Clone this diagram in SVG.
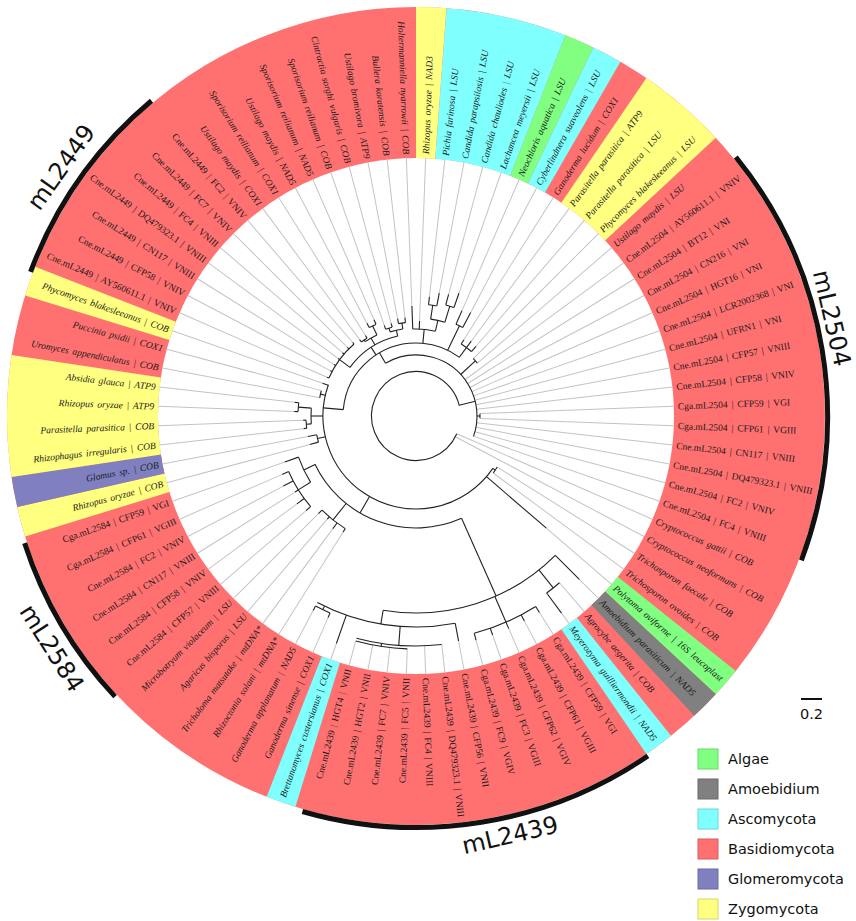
<svg xmlns="http://www.w3.org/2000/svg" width="856" height="921" viewBox="0 0 856 921">
<style>
.g{stroke:#c4c4c4;stroke-width:1;fill:none}
.k{stroke:#222;stroke-width:1.1;fill:none}
.band{fill:none;stroke-width:151}
.lab{font-family:"Liberation Serif",serif;font-size:9.5px;fill:#1a1a1a;word-spacing:1.5px}
.i{font-style:italic}
.clade{fill:none;stroke:#111;stroke-width:5}
.cl{font-family:"DejaVu Sans",sans-serif;font-size:24px;fill:#111}
.leg{font-family:"DejaVu Sans",sans-serif;font-size:14.5px;fill:#111}
</style>
<rect width="856" height="921" fill="#fff"/>
<g id="ring" transform="translate(416,416)">
<circle class="band" r="333.5" stroke="#ff7171"/>
<circle class="band" r="333.5" stroke="#ffff80" stroke-dasharray="24.945 3000" transform="rotate(-90)"/>
<circle class="band" r="333.5" stroke="#80ffff" stroke-dasharray="99.78 3000" transform="rotate(-85.714)"/>
<circle class="band" r="333.5" stroke="#80ff80" stroke-dasharray="24.945 3000" transform="rotate(-68.571)"/>
<circle class="band" r="333.5" stroke="#80ffff" stroke-dasharray="24.945 3000" transform="rotate(-64.286)"/>
<circle class="band" r="333.5" stroke="#ffff80" stroke-dasharray="74.84 3000" transform="rotate(-55.714)"/>
<circle class="band" r="333.5" stroke="#80ff80" stroke-dasharray="24.945 3000" transform="rotate(38.571)"/>
<circle class="band" r="333.5" stroke="#808080" stroke-dasharray="24.945 3000" transform="rotate(42.857)"/>
<circle class="band" r="333.5" stroke="#80ffff" stroke-dasharray="24.945 3000" transform="rotate(51.429)"/>
<circle class="band" r="333.5" stroke="#80ffff" stroke-dasharray="24.945 3000" transform="rotate(107.143)"/>
<circle class="band" r="333.5" stroke="#ffff80" stroke-dasharray="24.945 3000" transform="rotate(162.857)"/>
<circle class="band" r="333.5" stroke="#8080c0" stroke-dasharray="24.945 3000" transform="rotate(167.143)"/>
<circle class="band" r="333.5" stroke="#ffff80" stroke-dasharray="99.78 3000" transform="rotate(171.429)"/>
<circle class="band" r="333.5" stroke="#ffff80" stroke-dasharray="24.945 3000" transform="rotate(197.143)"/>
</g>
<g id="connectors" transform="translate(416,416)">
<g class="g">
<line x1="95" x2="258" transform="rotate(-87.857)"/>
<line x1="120" x2="258" transform="rotate(-83.571)"/>
<line x1="125" x2="258" transform="rotate(-79.286)"/>
<line x1="126" x2="258" transform="rotate(-75)"/>
<line x1="130" x2="258" transform="rotate(-70.714)"/>
<line x1="115" x2="258" transform="rotate(-66.429)"/>
<line x1="117" x2="258" transform="rotate(-62.143)"/>
<line x1="90" x2="258" transform="rotate(-57.857)"/>
<line x1="93" x2="258" transform="rotate(-53.571)"/>
<line x1="92" x2="258" transform="rotate(-49.286)"/>
<line x1="81" x2="258" transform="rotate(-45)"/>
<line x1="81" x2="258" transform="rotate(-40.714)"/>
<line x1="61" x2="258" transform="rotate(-36.429)"/>
<line x1="61" x2="258" transform="rotate(-32.143)"/>
<line x1="61" x2="258" transform="rotate(-27.857)"/>
<line x1="61" x2="258" transform="rotate(-23.571)"/>
<line x1="61" x2="258" transform="rotate(-19.286)"/>
<line x1="61" x2="258" transform="rotate(-15)"/>
<line x1="61" x2="258" transform="rotate(-10.714)"/>
<line x1="61" x2="258" transform="rotate(-6.429)"/>
<line x1="64" x2="258" transform="rotate(-2.143)"/>
<line x1="64" x2="258" transform="rotate(2.143)"/>
<line x1="61" x2="258" transform="rotate(6.429)"/>
<line x1="61" x2="258" transform="rotate(10.714)"/>
<line x1="61" x2="258" transform="rotate(15)"/>
<line x1="61" x2="258" transform="rotate(19.286)"/>
<line x1="44.5" x2="258" transform="rotate(23.571)"/>
<line x1="44.5" x2="258" transform="rotate(27.857)"/>
<line x1="96" x2="258" transform="rotate(32.143)"/>
<line x1="96" x2="258" transform="rotate(36.429)"/>
<line x1="172" x2="258" transform="rotate(40.714)"/>
<line x1="231" x2="258" transform="rotate(45)"/>
<line x1="220" x2="258" transform="rotate(49.286)"/>
<line x1="245" x2="258" transform="rotate(53.571)"/>
<line x1="232" x2="258" transform="rotate(57.857)"/>
<line x1="232" x2="258" transform="rotate(62.143)"/>
<line x1="232" x2="258" transform="rotate(66.429)"/>
<line x1="232" x2="258" transform="rotate(70.714)"/>
<line x1="232" x2="258" transform="rotate(75)"/>
<line x1="229" x2="258" transform="rotate(79.286)"/>
<line x1="230" x2="258" transform="rotate(83.571)"/>
<line x1="230" x2="258" transform="rotate(87.857)"/>
<line x1="233" x2="258" transform="rotate(92.143)"/>
<line x1="233" x2="258" transform="rotate(96.429)"/>
<line x1="233" x2="258" transform="rotate(100.714)"/>
<line x1="233" x2="258" transform="rotate(105)"/>
<line x1="241" x2="258" transform="rotate(109.286)"/>
<line x1="220" x2="258" transform="rotate(113.571)"/>
<line x1="220" x2="258" transform="rotate(117.857)"/>
<line x1="137" x2="258" transform="rotate(122.143)"/>
<line x1="140" x2="258" transform="rotate(126.429)"/>
<line x1="136" x2="258" transform="rotate(130.714)"/>
<line x1="138" x2="258" transform="rotate(135)"/>
<line x1="145" x2="258" transform="rotate(139.286)"/>
<line x1="148" x2="258" transform="rotate(143.571)"/>
<line x1="143" x2="258" transform="rotate(147.857)"/>
<line x1="150" x2="258" transform="rotate(152.143)"/>
<line x1="146" x2="258" transform="rotate(156.429)"/>
<line x1="139" x2="258" transform="rotate(160.714)"/>
<line x1="110" x2="258" transform="rotate(165)"/>
<line x1="110" x2="258" transform="rotate(169.286)"/>
<line x1="113" x2="258" transform="rotate(173.571)"/>
<line x1="113" x2="258" transform="rotate(177.857)"/>
<line x1="122" x2="258" transform="rotate(182.143)"/>
<line x1="122" x2="258" transform="rotate(186.429)"/>
<line x1="98" x2="258" transform="rotate(190.714)"/>
<line x1="98" x2="258" transform="rotate(195)"/>
<line x1="99" x2="258" transform="rotate(199.286)"/>
<line x1="97" x2="258" transform="rotate(203.571)"/>
<line x1="97" x2="258" transform="rotate(207.857)"/>
<line x1="97" x2="258" transform="rotate(212.143)"/>
<line x1="97" x2="258" transform="rotate(216.429)"/>
<line x1="97" x2="258" transform="rotate(220.714)"/>
<line x1="97" x2="258" transform="rotate(225)"/>
<line x1="97" x2="258" transform="rotate(229.286)"/>
<line x1="95" x2="258" transform="rotate(233.571)"/>
<line x1="95" x2="258" transform="rotate(237.857)"/>
<line x1="105" x2="258" transform="rotate(242.143)"/>
<line x1="105" x2="258" transform="rotate(246.429)"/>
<line x1="96" x2="258" transform="rotate(250.714)"/>
<line x1="96" x2="258" transform="rotate(255)"/>
<line x1="99" x2="258" transform="rotate(259.286)"/>
<line x1="99" x2="258" transform="rotate(263.571)"/>
<line x1="110" x2="258" transform="rotate(267.857)"/>
</g>
<g class="k">
<circle r="44.5" stroke-dasharray="250.43 3000" transform="rotate(23.571)"/>
<circle r="61" stroke-dasharray="148.29 3000" transform="rotate(240)"/>
<circle r="64" stroke-dasharray="4.79 3000" transform="rotate(-2.143)"/>
<circle r="81" stroke-dasharray="6.06 3000" transform="rotate(-45)"/>
<circle r="73" stroke-dasharray="154.67 3000" transform="rotate(185)"/>
<circle r="93" stroke-dasharray="267.8 3000" transform="rotate(34.3)"/>
<circle r="96" stroke-dasharray="7.18 3000" transform="rotate(32.143)"/>
<circle r="112" stroke-dasharray="172.6 3000" transform="rotate(66)"/>
<circle r="197" stroke-dasharray="187.73 3000" transform="rotate(45)"/>
<circle r="220" stroke-dasharray="16.46 3000" transform="rotate(49.286)"/>
<circle r="225" stroke-dasharray="67.32 3000" transform="rotate(57.857)"/>
<circle r="211" stroke-dasharray="142.04 3000" transform="rotate(79.286)"/>
<circle r="230" stroke-dasharray="86.02 3000" transform="rotate(83.571)"/>
<circle r="233" stroke-dasharray="52.28 3000" transform="rotate(92.143)"/>
<circle r="215" stroke-dasharray="16.08 3000" transform="rotate(113.571)"/>
<circle r="133" stroke-dasharray="29.85 3000" transform="rotate(122.143)"/>
<circle r="124.5" stroke-dasharray="27.81 3000" transform="rotate(147.9)"/>
<circle r="139" stroke-dasharray="41.59 3000" transform="rotate(139.286)"/>
<circle r="101" stroke-dasharray="7.555 3000" transform="rotate(165)"/>
<circle r="105" stroke-dasharray="15.76 3000" transform="rotate(175.7)"/>
<circle r="110" stroke-dasharray="8.23 3000" transform="rotate(173.571)"/>
<circle r="118" stroke-dasharray="8.83 3000" transform="rotate(182.143)"/>
<circle r="98" stroke-dasharray="7.33 3000" transform="rotate(190.714)"/>
<circle r="82" stroke-dasharray="58.25 3000" transform="rotate(216.4)"/>
<circle r="95" stroke-dasharray="42.64 3000" transform="rotate(203.571)"/>
<circle r="90" stroke-dasharray="13.51 3000" transform="rotate(235.7)"/>
<circle r="92" stroke-dasharray="6.88 3000" transform="rotate(233.571)"/>
<circle r="100" stroke-dasharray="7.48 3000" transform="rotate(242.143)"/>
<circle r="88" stroke-dasharray="13.05 3000" transform="rotate(252.9)"/>
<circle r="92" stroke-dasharray="6.88 3000" transform="rotate(250.714)"/>
<circle r="94" stroke-dasharray="7.03 3000" transform="rotate(259.286)"/>
<circle r="87" stroke-dasharray="22.84 3000" transform="rotate(267.857)"/>
<circle r="98" stroke-dasharray="14.54 3000" transform="rotate(-81.4)"/>
<circle r="112" stroke-dasharray="8.38 3000" transform="rotate(-83.571)"/>
<circle r="115" stroke-dasharray="8.6 3000" transform="rotate(-75)"/>
<circle r="100" stroke-dasharray="7.48 3000" transform="rotate(-66.429)"/>
<circle r="85" stroke-dasharray="12.72 3000" transform="rotate(-57.857)"/>
<line x1="44.5" x2="61" transform="rotate(-14)"/>
<line x1="61" x2="81" transform="rotate(-42.9)"/>
<line x1="61" x2="64" transform="rotate(0)"/>
<line x1="61" x2="73" transform="rotate(240)"/>
<line x1="73" x2="93" transform="rotate(185)"/>
<line x1="93" x2="96" transform="rotate(34.3)"/>
<line x1="93" x2="172" transform="rotate(40.714)"/>
<line x1="93" x2="112" transform="rotate(120)"/>
<line x1="112" x2="197" transform="rotate(66)"/>
<line x1="197" x2="231" transform="rotate(45)"/>
<line x1="197" x2="220" transform="rotate(51.4)"/>
<line x1="220" x2="245" transform="rotate(53.571)"/>
<line x1="197" x2="225" transform="rotate(66.4)"/>
<line x1="225" x2="232" transform="rotate(57.857)"/>
<line x1="225" x2="232" transform="rotate(62.143)"/>
<line x1="225" x2="232" transform="rotate(66.429)"/>
<line x1="225" x2="232" transform="rotate(70.714)"/>
<line x1="225" x2="232" transform="rotate(75)"/>
<line x1="197" x2="211" transform="rotate(99.6)"/>
<line x1="211" x2="229" transform="rotate(79.286)"/>
<line x1="211" x2="230" transform="rotate(94.3)"/>
<line x1="230" x2="233" transform="rotate(98.6)"/>
<line x1="211" x2="241" transform="rotate(109.286)"/>
<line x1="211" x2="215" transform="rotate(115.7)"/>
<line x1="215" x2="220" transform="rotate(113.571)"/>
<line x1="215" x2="220" transform="rotate(117.857)"/>
<line x1="112" x2="133" transform="rotate(128.6)"/>
<line x1="133" x2="137" transform="rotate(122.143)"/>
<line x1="133" x2="140" transform="rotate(126.429)"/>
<line x1="133" x2="136" transform="rotate(130.714)"/>
<line x1="133" x2="138" transform="rotate(135)"/>
<line x1="112" x2="124.5" transform="rotate(154.3)"/>
<line x1="124.5" x2="139" transform="rotate(147.9)"/>
<line x1="124.5" x2="139" transform="rotate(160.714)"/>
<line x1="139" x2="145" transform="rotate(139.286)"/>
<line x1="139" x2="148" transform="rotate(143.571)"/>
<line x1="139" x2="143" transform="rotate(147.857)"/>
<line x1="139" x2="150" transform="rotate(152.143)"/>
<line x1="139" x2="146" transform="rotate(156.429)"/>
<line x1="93" x2="101" transform="rotate(167.1)"/>
<line x1="101" x2="110" transform="rotate(165)"/>
<line x1="101" x2="110" transform="rotate(169.286)"/>
<line x1="93" x2="105" transform="rotate(180)"/>
<line x1="105" x2="110" transform="rotate(175.7)"/>
<line x1="110" x2="113" transform="rotate(173.571)"/>
<line x1="110" x2="113" transform="rotate(177.857)"/>
<line x1="105" x2="118" transform="rotate(184.3)"/>
<line x1="118" x2="122" transform="rotate(182.143)"/>
<line x1="118" x2="122" transform="rotate(186.429)"/>
<line x1="93" x2="98" transform="rotate(192.9)"/>
<line x1="93" x2="99" transform="rotate(199.286)"/>
<line x1="73" x2="82" transform="rotate(236.8)"/>
<line x1="82" x2="95" transform="rotate(216.4)"/>
<line x1="95" x2="97" transform="rotate(203.571)"/>
<line x1="95" x2="97" transform="rotate(207.857)"/>
<line x1="95" x2="97" transform="rotate(212.143)"/>
<line x1="95" x2="97" transform="rotate(216.429)"/>
<line x1="95" x2="97" transform="rotate(220.714)"/>
<line x1="95" x2="97" transform="rotate(225)"/>
<line x1="95" x2="97" transform="rotate(229.286)"/>
<line x1="82" x2="90" transform="rotate(240)"/>
<line x1="90" x2="92" transform="rotate(235.7)"/>
<line x1="92" x2="95" transform="rotate(233.571)"/>
<line x1="92" x2="95" transform="rotate(237.857)"/>
<line x1="90" x2="100" transform="rotate(244.3)"/>
<line x1="100" x2="105" transform="rotate(242.143)"/>
<line x1="100" x2="105" transform="rotate(246.429)"/>
<line x1="82" x2="88" transform="rotate(257.1)"/>
<line x1="88" x2="92" transform="rotate(252.9)"/>
<line x1="92" x2="96" transform="rotate(250.714)"/>
<line x1="92" x2="96" transform="rotate(255)"/>
<line x1="88" x2="94" transform="rotate(261.4)"/>
<line x1="94" x2="99" transform="rotate(259.286)"/>
<line x1="94" x2="99" transform="rotate(263.571)"/>
<line x1="73" x2="87" transform="rotate(-84.6)"/>
<line x1="87" x2="110" transform="rotate(267.857)"/>
<line x1="87" x2="95" transform="rotate(-87.857)"/>
<line x1="87" x2="98" transform="rotate(-77.1)"/>
<line x1="98" x2="112" transform="rotate(-81.4)"/>
<line x1="112" x2="120" transform="rotate(-83.571)"/>
<line x1="112" x2="125" transform="rotate(-79.286)"/>
<line x1="98" x2="115" transform="rotate(-72.9)"/>
<line x1="115" x2="126" transform="rotate(-75)"/>
<line x1="115" x2="130" transform="rotate(-70.714)"/>
<line x1="73" x2="100" transform="rotate(-64.3)"/>
<line x1="100" x2="115" transform="rotate(-66.429)"/>
<line x1="100" x2="117" transform="rotate(-62.143)"/>
<line x1="73" x2="85" transform="rotate(-53.6)"/>
<line x1="85" x2="90" transform="rotate(-57.857)"/>
<line x1="85" x2="93" transform="rotate(-53.571)"/>
<line x1="85" x2="92" transform="rotate(-49.286)"/>
</g>
</g>
<g id="leaves" transform="translate(416,416)">
<g id="leaf01" transform="rotate(-87.857)"><text class="lab i" x="262" dy="0.35em">Rhizopus oryzae | NAD3</text></g>
<g id="leaf02" transform="rotate(-83.571)"><text class="lab i" x="262" dy="0.35em">Pichia farinosa | LSU</text></g>
<g id="leaf03" transform="rotate(-79.286)"><text class="lab i" x="262" dy="0.35em">Candida parapsilosis | LSU</text></g>
<g id="leaf04" transform="rotate(-75)"><text class="lab i" x="262" dy="0.35em">Candida chauliodes | LSU</text></g>
<g id="leaf05" transform="rotate(-70.714)"><text class="lab i" x="262" dy="0.35em">Lachancea meyersii | LSU</text></g>
<g id="leaf06" transform="rotate(-66.429)"><text class="lab i" x="262" dy="0.35em">Neochloris aquatica | LSU</text></g>
<g id="leaf07" transform="rotate(-62.143)"><text class="lab i" x="262" dy="0.35em">Cyberlindnera suaveolens | LSU</text></g>
<g id="leaf08" transform="rotate(-57.857)"><text class="lab i" x="262" dy="0.35em">Ganoderma lucidum | COX1</text></g>
<g id="leaf09" transform="rotate(-53.571)"><text class="lab i" x="262" dy="0.35em">Parasitella parasitica | ATP9</text></g>
<g id="leaf10" transform="rotate(-49.286)"><text class="lab i" x="262" dy="0.35em">Parasitella parasitica | LSU</text></g>
<g id="leaf11" transform="rotate(-45)"><text class="lab i" x="262" dy="0.35em">Phycomyces blakesleeanus | LSU</text></g>
<g id="leaf12" transform="rotate(-40.714)"><text class="lab i" x="262" dy="0.35em">Ustilago maydis | LSU</text></g>
<g id="leaf13" transform="rotate(-36.429)"><text class="lab" x="262" dy="0.35em">Cne.mL2504 | AY560611.1 | VNIV</text></g>
<g id="leaf14" transform="rotate(-32.143)"><text class="lab" x="262" dy="0.35em">Cne.mL2504 | BT12 | VNI</text></g>
<g id="leaf15" transform="rotate(-27.857)"><text class="lab" x="262" dy="0.35em">Cne.mL2504 | CN216 | VNI</text></g>
<g id="leaf16" transform="rotate(-23.571)"><text class="lab" x="262" dy="0.35em">Cne.mL2504 | HGT16 | VNI</text></g>
<g id="leaf17" transform="rotate(-19.286)"><text class="lab" x="262" dy="0.35em">Cne.mL2504 | LCR2002368 | VNI</text></g>
<g id="leaf18" transform="rotate(-15)"><text class="lab" x="262" dy="0.35em">Cne.mL2504 | UFRN1 | VNI</text></g>
<g id="leaf19" transform="rotate(-10.714)"><text class="lab" x="262" dy="0.35em">Cne.mL2504 | CFP57 | VNIII</text></g>
<g id="leaf20" transform="rotate(-6.429)"><text class="lab" x="262" dy="0.35em">Cne.mL2504 | CFP58 | VNIV</text></g>
<g id="leaf21" transform="rotate(-2.143)"><text class="lab" x="262" dy="0.35em">Cga.mL2504 | CFP59 | VGI</text></g>
<g id="leaf22" transform="rotate(2.143)"><text class="lab" x="262" dy="0.35em">Cga.mL2504 | CFP61 | VGIII</text></g>
<g id="leaf23" transform="rotate(6.429)"><text class="lab" x="262" dy="0.35em">Cne.mL2504 | CN117 | VNIII</text></g>
<g id="leaf24" transform="rotate(10.714)"><text class="lab" x="262" dy="0.35em">Cne.mL2504 | DQ479323.1 | VNIII</text></g>
<g id="leaf25" transform="rotate(15)"><text class="lab" x="262" dy="0.35em">Cne.mL2504 | FC2 | VNIV</text></g>
<g id="leaf26" transform="rotate(19.286)"><text class="lab" x="262" dy="0.35em">Cne.mL2504 | FC4 | VNIII</text></g>
<g id="leaf27" transform="rotate(23.571)"><text class="lab i" x="262" dy="0.35em">Cryptococcus gattii | COB</text></g>
<g id="leaf28" transform="rotate(27.857)"><text class="lab i" x="262" dy="0.35em">Cryptococcus neoformans | COB</text></g>
<g id="leaf29" transform="rotate(32.143)"><text class="lab i" x="262" dy="0.35em">Trichosporon faecale | COB</text></g>
<g id="leaf30" transform="rotate(36.429)"><text class="lab i" x="262" dy="0.35em">Trichosporon ovoides | COB</text></g>
<g id="leaf31" transform="rotate(40.714)"><text class="lab i" x="262" dy="0.35em">Polytoma oviforme | 16S leucoplast</text></g>
<g id="leaf32" transform="rotate(45)"><text class="lab i" x="262" dy="0.35em">Amoebidium parasiticum | NAD5</text></g>
<g id="leaf33" transform="rotate(49.286)"><text class="lab i" x="262" dy="0.35em">Agrocybe aegerita | COB</text></g>
<g id="leaf34" transform="rotate(53.571)"><text class="lab i" x="262" dy="0.35em">Meyerozyma guilliermondii | NAD5</text></g>
<g id="leaf35" transform="rotate(57.857)"><text class="lab" x="262" dy="0.35em">Cga.mL2439 | CFP59 | VGI</text></g>
<g id="leaf36" transform="rotate(62.143)"><text class="lab" x="262" dy="0.35em">Cga.mL2439 | CFP61 | VGIII</text></g>
<g id="leaf37" transform="rotate(66.429)"><text class="lab" x="262" dy="0.35em">Cga.mL2439 | CFP62 | VGIV</text></g>
<g id="leaf38" transform="rotate(70.714)"><text class="lab" x="262" dy="0.35em">Cga.mL2439 | FC3 | VGIII</text></g>
<g id="leaf39" transform="rotate(75)"><text class="lab" x="262" dy="0.35em">Cga.mL2439 | FC9 | VGIV</text></g>
<g id="leaf40" transform="rotate(79.286)"><text class="lab" x="262" dy="0.35em">Cne.mL2439 | CFP56 | VNII</text></g>
<g id="leaf41" transform="rotate(83.571)"><text class="lab" x="262" dy="0.35em">Cne.mL2439 | DQ479323.1 | VNIII</text></g>
<g id="leaf42" transform="rotate(87.857)"><text class="lab" x="262" dy="0.35em">Cne.mL2439 | FC4 | VNIII</text></g>
<g id="leaf43" transform="rotate(-87.857)"><text class="lab" x="-262" dy="0.35em" text-anchor="end">Cne.mL2439 | FC5 | VNII</text></g>
<g id="leaf44" transform="rotate(-83.571)"><text class="lab" x="-262" dy="0.35em" text-anchor="end">Cne.mL2439 | FC7 | VNIV</text></g>
<g id="leaf45" transform="rotate(-79.286)"><text class="lab" x="-262" dy="0.35em" text-anchor="end">Cne.mL2439 | HGT2 | VNII</text></g>
<g id="leaf46" transform="rotate(-75)"><text class="lab" x="-262" dy="0.35em" text-anchor="end">Cne.mL2439 | HGT4 | VNII</text></g>
<g id="leaf47" transform="rotate(-70.714)"><text class="lab i" x="-262" dy="0.35em" text-anchor="end">Brettanomyces custersianus | COX1</text></g>
<g id="leaf48" transform="rotate(-66.429)"><text class="lab i" x="-262" dy="0.35em" text-anchor="end">Ganoderma sinense | COX1</text></g>
<g id="leaf49" transform="rotate(-62.143)"><text class="lab i" x="-262" dy="0.35em" text-anchor="end">Ganoderma applanatum | NAD5</text></g>
<g id="leaf50" transform="rotate(-57.857)"><text class="lab i" x="-262" dy="0.35em" text-anchor="end">Rhizoctonia solani | mtDNA*</text></g>
<g id="leaf51" transform="rotate(-53.571)"><text class="lab i" x="-262" dy="0.35em" text-anchor="end">Tricholoma matsutake | mtDNA*</text></g>
<g id="leaf52" transform="rotate(-49.286)"><text class="lab i" x="-262" dy="0.35em" text-anchor="end">Agaricus bisporus | LSU</text></g>
<g id="leaf53" transform="rotate(-45)"><text class="lab i" x="-262" dy="0.35em" text-anchor="end">Microbotryum violaceum | LSU</text></g>
<g id="leaf54" transform="rotate(-40.714)"><text class="lab" x="-262" dy="0.35em" text-anchor="end">Cne.mL2584 | CFP57 | VNIII</text></g>
<g id="leaf55" transform="rotate(-36.429)"><text class="lab" x="-262" dy="0.35em" text-anchor="end">Cne.mL2584 | CFP58 | VNIV</text></g>
<g id="leaf56" transform="rotate(-32.143)"><text class="lab" x="-262" dy="0.35em" text-anchor="end">Cne.mL2584 | CN117 | VNIII</text></g>
<g id="leaf57" transform="rotate(-27.857)"><text class="lab" x="-262" dy="0.35em" text-anchor="end">Cne.mL2584 | FC2 | VNIV</text></g>
<g id="leaf58" transform="rotate(-23.571)"><text class="lab" x="-262" dy="0.35em" text-anchor="end">Cga.mL2584 | CFP61 | VGIII</text></g>
<g id="leaf59" transform="rotate(-19.286)"><text class="lab" x="-262" dy="0.35em" text-anchor="end">Cga.mL2584 | CFP59 | VGI</text></g>
<g id="leaf60" transform="rotate(-15)"><text class="lab i" x="-262" dy="0.35em" text-anchor="end">Rhizopus oryzae | COB</text></g>
<g id="leaf61" transform="rotate(-10.714)"><text class="lab i" x="-262" dy="0.35em" text-anchor="end">Glomus sp. | COB</text></g>
<g id="leaf62" transform="rotate(-6.429)"><text class="lab i" x="-262" dy="0.35em" text-anchor="end">Rhizophagus irregularis | COB</text></g>
<g id="leaf63" transform="rotate(-2.143)"><text class="lab i" x="-262" dy="0.35em" text-anchor="end">Parasitella parasitica | COB</text></g>
<g id="leaf64" transform="rotate(2.143)"><text class="lab i" x="-262" dy="0.35em" text-anchor="end">Rhizopus oryzae | ATP9</text></g>
<g id="leaf65" transform="rotate(6.429)"><text class="lab i" x="-262" dy="0.35em" text-anchor="end">Absidia glauca | ATP9</text></g>
<g id="leaf66" transform="rotate(10.714)"><text class="lab i" x="-262" dy="0.35em" text-anchor="end">Uromyces appendiculatus | COB</text></g>
<g id="leaf67" transform="rotate(15)"><text class="lab i" x="-262" dy="0.35em" text-anchor="end">Puccinia psidii | COX1</text></g>
<g id="leaf68" transform="rotate(19.286)"><text class="lab i" x="-262" dy="0.35em" text-anchor="end">Phycomyces blakesleeanus | COB</text></g>
<g id="leaf69" transform="rotate(23.571)"><text class="lab" x="-262" dy="0.35em" text-anchor="end">Cne.mL2449 | AY560611.1 | VNIV</text></g>
<g id="leaf70" transform="rotate(27.857)"><text class="lab" x="-262" dy="0.35em" text-anchor="end">Cne.mL2449 | CFP58 | VNIV</text></g>
<g id="leaf71" transform="rotate(32.143)"><text class="lab" x="-262" dy="0.35em" text-anchor="end">Cne.mL2449 | CN117 | VNIII</text></g>
<g id="leaf72" transform="rotate(36.429)"><text class="lab" x="-262" dy="0.35em" text-anchor="end">Cne.mL2449 | DQ479323.1 | VNIII</text></g>
<g id="leaf73" transform="rotate(40.714)"><text class="lab" x="-262" dy="0.35em" text-anchor="end">Cne.mL2449 | FC4 | VNIII</text></g>
<g id="leaf74" transform="rotate(45)"><text class="lab" x="-262" dy="0.35em" text-anchor="end">Cne.mL2449 | FC7 | VNIV</text></g>
<g id="leaf75" transform="rotate(49.286)"><text class="lab" x="-262" dy="0.35em" text-anchor="end">Cne.mL2449 | FC2 | VNIV</text></g>
<g id="leaf76" transform="rotate(53.571)"><text class="lab i" x="-262" dy="0.35em" text-anchor="end">Ustilago maydis | COX1</text></g>
<g id="leaf77" transform="rotate(57.857)"><text class="lab i" x="-262" dy="0.35em" text-anchor="end">Sporisorium reilianum | COX1</text></g>
<g id="leaf78" transform="rotate(62.143)"><text class="lab i" x="-262" dy="0.35em" text-anchor="end">Ustilago maydis | NAD5</text></g>
<g id="leaf79" transform="rotate(66.429)"><text class="lab i" x="-262" dy="0.35em" text-anchor="end">Sporisorium reilianum | NAD5</text></g>
<g id="leaf80" transform="rotate(70.714)"><text class="lab i" x="-262" dy="0.35em" text-anchor="end">Sporisorium reilianum | COB</text></g>
<g id="leaf81" transform="rotate(75)"><text class="lab i" x="-262" dy="0.35em" text-anchor="end">Cintractia sorghi vulgaris | COB</text></g>
<g id="leaf82" transform="rotate(79.286)"><text class="lab i" x="-262" dy="0.35em" text-anchor="end">Ustilago bromivora | ATP9</text></g>
<g id="leaf83" transform="rotate(83.571)"><text class="lab i" x="-262" dy="0.35em" text-anchor="end">Bullera koratensis | COB</text></g>
<g id="leaf84" transform="rotate(87.857)"><text class="lab i" x="-262" dy="0.35em" text-anchor="end">Holtermanniella nyarrowii | COB</text></g>
</g>
<g id="clades" transform="translate(416,416)">
<circle class="clade" r="411.5" stroke-dasharray="211.87 3000" transform="rotate(200.5)"/>
<circle class="clade" r="411.5" stroke-dasharray="427.3 3000" transform="rotate(-39)"/>
<circle class="clade" r="411.5" stroke-dasharray="361.3 3000" transform="rotate(55.7)"/>
<circle class="clade" r="411.5" stroke-dasharray="179.55 3000" transform="rotate(137)"/>
</g>
<g id="clade-labels">
<text class="cl" x="61" y="167" dy="0.35em" text-anchor="middle" transform="rotate(-54.5 61 167)">mL2449</text>
<text class="cl" x="832" y="318" dy="0.35em" text-anchor="middle" transform="rotate(77 832 318)">mL2504</text>
<text class="cl" x="510" y="835" dy="0.35em" text-anchor="middle" transform="rotate(-13 510 835)">mL2439</text>
<text class="cl" x="52" y="648" dy="0.35em" text-anchor="middle" transform="rotate(57.6 52 648)">mL2584</text>
</g>
<g id="scale">
<line x1="801" y1="699" x2="822" y2="699" stroke="#111" stroke-width="2"/>
<text class="leg" x="811.5" y="719" text-anchor="middle" font-size="14">0.2</text>
</g>
<g id="legend">
<g id="leg-algae"><rect x="698" y="749" width="20" height="20" fill="#80ff80" stroke="#6bd66b"/><text class="leg" x="728" y="764">Algae</text></g>
<g id="leg-amoebidium"><rect x="698" y="779" width="20" height="20" fill="#808080" stroke="#6b6b6b"/><text class="leg" x="728" y="794">Amoebidium</text></g>
<g id="leg-ascomycota"><rect x="698" y="809" width="20" height="20" fill="#80ffff" stroke="#6bd6d6"/><text class="leg" x="728" y="824">Ascomycota</text></g>
<g id="leg-basidiomycota"><rect x="698" y="839" width="20" height="20" fill="#ff7171" stroke="#d65e5e"/><text class="leg" x="728" y="854">Basidiomycota</text></g>
<g id="leg-glomeromycota"><rect x="698" y="869" width="20" height="20" fill="#8080c0" stroke="#6b6ba1"/><text class="leg" x="728" y="884">Glomeromycota</text></g>
<g id="leg-zygomycota"><rect x="698" y="899" width="20" height="20" fill="#ffff80" stroke="#d6d66b"/><text class="leg" x="728" y="914">Zygomycota</text></g>
</g>
</svg>
